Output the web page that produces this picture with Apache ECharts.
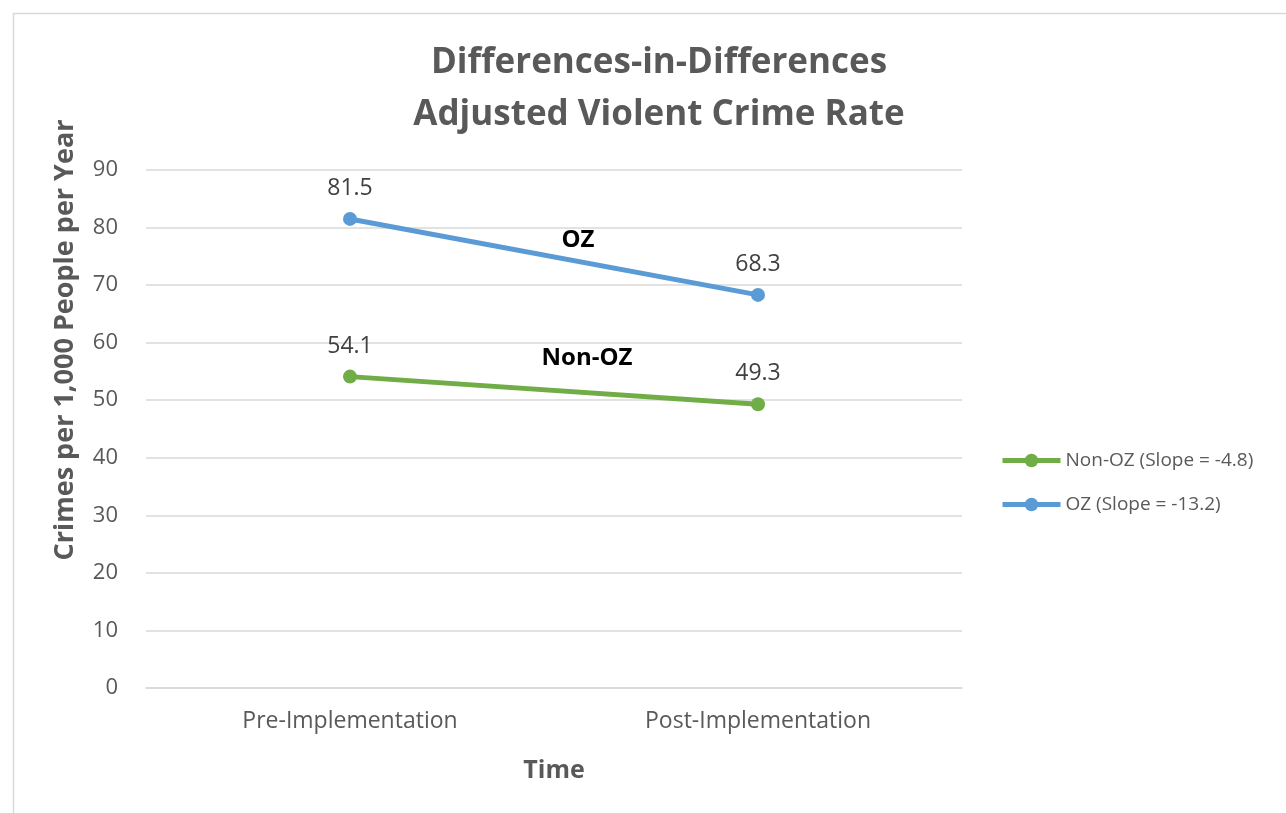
<!DOCTYPE html>
<html>
<head>
<meta charset="utf-8">
<script src="https://cdn.jsdelivr.net/npm/echarts@6/dist/echarts.min.js"></script>
<style>
  html, body { margin: 0; padding: 0; background: #fff; }
  #main { width: 1286px; height: 813px; }
</style>
</head>
<body>
<div id="main"></div>
<script>
var categories = ['Pre-Implementation', 'Post-Implementation'];
var nonOzValues = [54.1, 49.3];
var ozValues = [81.5, 68.3];
var seriesNames = ['Non-OZ (Slope = -4.8)', 'OZ (Slope = -13.2)'];

var font = 'Open Sans';
var grey = '#595959';

var myChart = echarts.init(document.getElementById('main'));

myChart.setOption({
    animation: false,
    textStyle: { fontFamily: font },
    title: {
        text: 'Differences-in-Differences\nAdjusted Violent Crime Rate',
        left: 654,
        textAlign: 'center',
        top: 32,
        textStyle: {
            fontSize: 35,
            fontWeight: 'bold',
            color: grey,
            lineHeight: 52,
            fontFamily: font
        }
    },
    legend: {
        orient: 'vertical',
        left: 995,
        top: 446,
        itemWidth: 58,
        itemHeight: 17,
        itemGap: 25,
        lineStyle: { width: 5 },
        textStyle: { fontSize: 19, color: grey, fontFamily: font },
        data: seriesNames
    },
    grid: {
        left: 146,
        right: 324,
        top: 170,
        bottom: 125
    },
    xAxis: {
        type: 'category',
        data: categories,
        boundaryGap: true,
        name: 'Time',
        nameLocation: 'middle',
        nameGap: 70,
        nameTextStyle: { fontSize: 25, fontWeight: 'bold', color: grey },
        axisLine: { lineStyle: { color: '#d9d9d9', width: 1.5 } },
        axisTick: { show: false },
        axisLabel: { fontSize: 23, color: grey, margin: 22 }
    },
    yAxis: {
        type: 'value',
        min: 0,
        max: 90,
        interval: 10,
        axisLine: { show: false },
        axisTick: { show: false },
        axisLabel: { fontSize: 22, color: grey, margin: 28 },
        splitLine: { lineStyle: { color: '#d9d9d9', width: 1.5 } }
    },
    graphic: [
        {
            type: 'rect',
            left: 11,
            top: 11,
            shape: { width: 1300, height: 830 },
            style: { fill: null, stroke: '#d9d9d9', lineWidth: 1.5 },
            silent: true
        },
        {
            type: 'text',
            x: 65,
            y: 340,
            rotation: Math.PI / 2,
            style: {
                text: 'Crimes per 1,000 People per Year',
                fontSize: 27,
                fontWeight: 'bold',
                fill: grey,
                fontFamily: font,
                align: 'center',
                verticalAlign: 'middle'
            }
        },
        {
            type: 'text',
            x: 578,
            y: 240,
            style: {
                text: 'OZ', fontSize: 24, fontWeight: 'bold', fill: '#000',
                fontFamily: font, align: 'center', verticalAlign: 'middle'
            }
        },
        {
            type: 'text',
            x: 587,
            y: 358,
            style: {
                text: 'Non-OZ', fontSize: 24, fontWeight: 'bold', fill: '#000',
                fontFamily: font, align: 'center', verticalAlign: 'middle'
            }
        }
    ],
    series: [
        {
            name: seriesNames[0],
            type: 'line',
            data: nonOzValues,
            color: '#70AD47',
            symbol: 'circle',
            symbolSize: 14,
            lineStyle: { width: 5 },
            label: {
                show: true,
                position: 'top',
                distance: 12,
                fontSize: 23,
                color: '#404040'
            }
        },
        {
            name: seriesNames[1],
            type: 'line',
            data: ozValues,
            color: '#5B9BD5',
            symbol: 'circle',
            symbolSize: 14,
            lineStyle: { width: 5 },
            label: {
                show: true,
                position: 'top',
                distance: 12,
                fontSize: 23,
                color: '#404040'
            }
        }
    ]
});
</script>
</body>
</html>
